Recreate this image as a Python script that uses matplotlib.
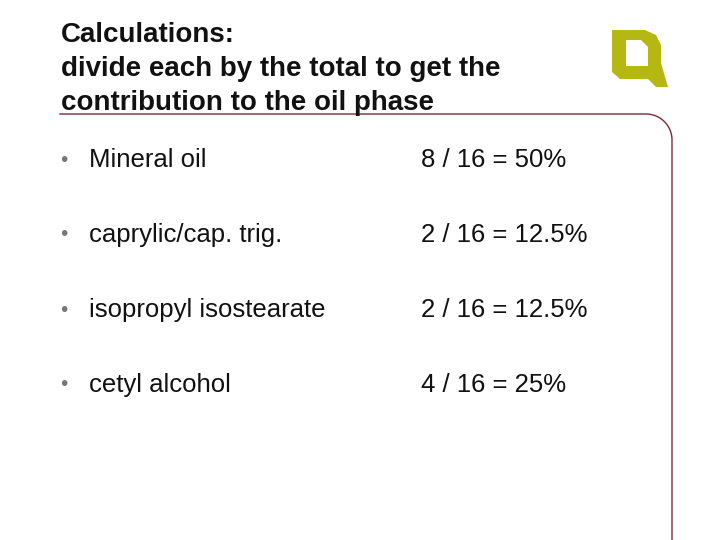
import matplotlib
matplotlib.use("Agg")
import matplotlib.pyplot as plt
from matplotlib.patches import Polygon
import numpy as np

title_lines = ["Calculations:", "divide each by the total to get the", "contribution to the oil phase"]
items = ["Mineral oil", "caprylic/cap. trig.", "isopropyl isostearate", "cetyl alcohol"]
calcs = ["8 / 16 = 50%", "2 / 16 = 12.5%", "2 / 16 = 12.5%", "4 / 16 = 25%"]

fig = plt.figure(figsize=(7.2, 5.4), dpi=100)
ax = fig.add_axes([0, 0, 1, 1])
ax.set_xlim(0, 720); ax.set_ylim(540, 0); ax.axis("off")
font = "Liberation Sans"

for i, t in enumerate(title_lines):
    ax.text(61, 35 + i * 34, t, fontsize=20, fontweight="bold", family=font, va="center", color="#111")

for i, (a, b) in enumerate(zip(items, calcs)):
    y = 160 + i * 75
    ax.text(60, y, "•", fontsize=15, family=font, va="center", color="#777")
    ax.text(89, y, a, fontsize=18.5, family=font, va="center", color="#111")
    ax.text(421, y, b, fontsize=18.5, family=font, va="center", color="#111")

th = np.linspace(np.pi / 2, 0, 30)
r = 26
cx, cy = 646, 140
xs = [60, cx] + list(cx + r * np.cos(th)) + [672]
ys = [114, 114] + list(cy - r * np.sin(th)) + [540]
ax.plot(xs, ys, color="#7a2a3a", lw=1)

outer = [(612, 30), (645, 30), (656, 35), (661, 45), (661, 63), (668, 87), (656, 87),
         (648, 79), (620, 79), (612, 72)]
ax.add_patch(Polygon(outer, closed=True, color="#b5b713", lw=0))
inner = [(626, 40), (641, 40), (648, 47), (648, 66), (626, 66)]
ax.add_patch(Polygon(inner, closed=True, color="white", lw=0))

fig.savefig("out.png", dpi=100)
